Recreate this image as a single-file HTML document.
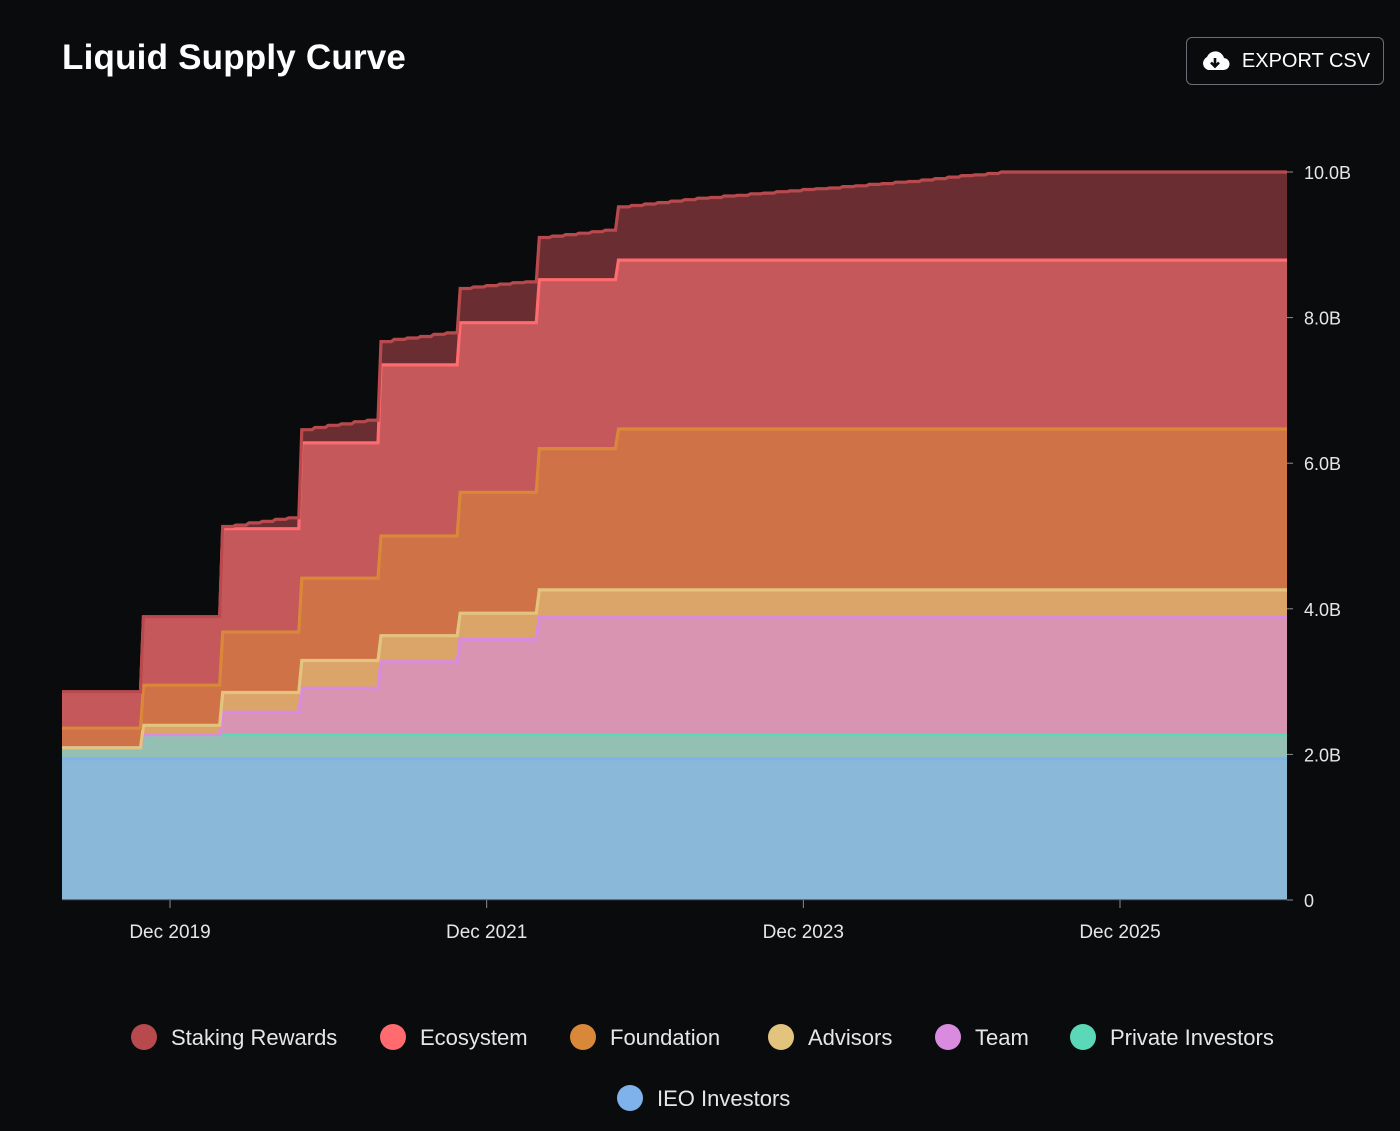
<!DOCTYPE html>
<html><head><meta charset="utf-8">
<style>
html,body{margin:0;padding:0;background:#0a0b0d;width:1400px;height:1131px;overflow:hidden;font-family:"Liberation Sans",sans-serif;color:#fff}
#title{position:absolute;left:62px;top:38px;font-size:35px;font-weight:bold;letter-spacing:0.2px}
#export{position:absolute;left:1186px;top:37px;width:198px;height:48px;border:1.5px solid #6b6e74;border-radius:6px;box-sizing:border-box;display:flex;align-items:center;justify-content:center;font-size:20px;gap:12px}
</style></head><body>
<div id="title">Liquid Supply Curve</div>
<div id="export">
<svg width="30" height="24" viewBox="0 0 30 24"><path d="M8 21 A7 7 0 0 1 7 8 A9 9 0 0 1 24 9 A6 6 0 0 1 23 21 Z" fill="#fff"/><path d="M15 9 V17 M11 13.5 L15 17.5 L19 13.5" stroke="#0a0b0d" stroke-width="2.6" fill="none"/></svg>
<span>EXPORT CSV</span></div>
<svg id="chart" width="1400" height="1131" style="position:absolute;left:0;top:0"></svg>
<script>
const seriesNames=["IEO Investors","Private Investors","Team","Advisors","Foundation","Ecosystem","Staking Rewards"];
const periodStarts=[0,6,12,18,24,30,36,42];
const ieo=[1.94,1.94,1.94,1.94,1.94,1.94,1.94,1.94];
const privateInv=[0.15,0.33,0.33,0.33,0.33,0.33,0.33,0.33];
const team=[0,0,0.31,0.64,1.00,1.31,1.62,1.62];
const advisors=[0,0.13,0.27,0.38,0.36,0.36,0.37,0.37];
const foundation=[0.27,0.55,0.83,1.13,1.37,1.66,1.94,2.21];
const ecosystem=[0.50,0.94,1.42,1.86,2.35,2.33,2.32,2.32];
const staking=[0,0,0,0,0,0,0,0,0,0,0,0,
0.03,0.05,0.08,0.10,0.13,0.15,
0.18,0.21,0.24,0.26,0.29,0.31,
0.32,0.35,0.37,0.39,0.42,0.44,
0.47,0.49,0.51,0.53,0.55,0.56,
0.58,0.60,0.62,0.64,0.66,0.68,
0.73,0.75,0.77,0.79,0.81,0.83,0.85,0.86,0.88,0.89,0.91,0.92,0.94,0.95,0.97,0.98,0.99,1.01,1.02,1.04,1.05,1.07,1.08,1.10,1.12,1.14,1.16,1.17,1.19,1.21,
1.21,1.21,1.21,1.21,1.21,1.21,1.21,1.21,1.21,1.21,1.21,1.21,1.21,1.21,1.21,1.21,1.21,1.21,1.21,1.21,1.21,1.21];
const yTicks=[0,2,4,6,8,10];
const yTickLabels=["0","2.0B","4.0B","6.0B","8.0B","10.0B"];
const xTickMonths=[8,32,56,80];
const xTickLabels=["Dec 2019","Dec 2021","Dec 2023","Dec 2025"];

const fills=["#8ab8d8","#93c0b3","#d894b0","#dba56a","#cf7247","#c4585b","#6a2e32"];
const lines=["#7fb2ea","#5ad8b8","#d98be0","#e3c47f","#d9883a","#ff6b6e","#b84a4d"];
const L=62,R=1287,B=900,T=172;
const x=m=>170+(m-8)*(950/72);
const y=v=>B-(v/10)*(B-T);
const svg=document.getElementById('chart');
const NS="http://www.w3.org/2000/svg";
function mk(tag,attrs){const e=document.createElementNS(NS,tag);for(const k in attrs)e.setAttribute(k,attrs[k]);svg.appendChild(e);return e;}
const N=staking.length;
function periodVal(arr,m){let p=0;for(let i=0;i<periodStarts.length;i++)if(m>=periodStarts[i])p=i;return arr[p];}
const perSeries=[ieo,privateInv,team,advisors,foundation,ecosystem];
const vals=[];
for(let s=0;s<7;s++){const a=[];for(let m=0;m<N;m++)a.push(s<6?periodVal(perSeries[s],m):staking[m]);vals.push(a);}
const cum=[];
for(let s=0;s<7;s++){const a=[];for(let m=0;m<N;m++)a.push((s?cum[s-1][m]:0)+vals[s][m]);cum.push(a);}
const defs=mk('defs',{});
const cp=document.createElementNS(NS,'clipPath');cp.setAttribute('id','clip');
const cr=document.createElementNS(NS,'rect');cr.setAttribute('x',L);cr.setAttribute('y',0);cr.setAttribute('width',R-L);cr.setAttribute('height',B+1);cp.appendChild(cr);defs.appendChild(cp);
const SH=5;
function stepPts(arr){const pts=[];for(let m=0;m<N;m++){const xs=x(m-0.5)+SH,xe=x(m+0.5)+SH;if(m===0)pts.push([x(-1),y(arr[0])]);pts.push([xs+1.5,y(arr[m])]);pts.push([xe-1.5,y(arr[m])]);}return pts;}
const g=mk('g',{'clip-path':'url(#clip)'});
for(let s=6;s>=0;s--){
  const top=stepPts(cum[s]);
  const d="M"+top.map(p=>p[0].toFixed(1)+","+p[1].toFixed(1)).join(" L")+" L"+x(N).toFixed(1)+","+B+" L"+x(-1).toFixed(1)+","+B+" Z";
  const a=document.createElementNS(NS,'path');a.setAttribute('d',d);a.setAttribute('fill',fills[s]);
  
  
  g.appendChild(a);
}
for(let s=0;s<7;s++){
  const top=stepPts(cum[s]);
  const ln=document.createElementNS(NS,'path');
  ln.setAttribute('d',"M"+top.map(p=>p[0].toFixed(1)+","+p[1].toFixed(1)).join(" L"));
  ln.setAttribute('fill','none');ln.setAttribute('stroke',lines[s]);ln.setAttribute('stroke-width','3.2');
  
  
  g.appendChild(ln);
}
svg.appendChild(g);
mk('line',{x1:L,x2:R,y1:B,y2:B,stroke:'#2a2d33','stroke-width':1});
yTicks.forEach((v,i)=>{
  mk('line',{x1:R,x2:R+6,y1:y(v),y2:y(v),stroke:'#8a8d93','stroke-width':1});
  const t=mk('text',{x:R+17,y:y(v)+7,fill:'#e6e6e6','font-size':18,'font-family':'Liberation Sans, sans-serif'});
  t.textContent=yTickLabels[i];
  
  
});
xTickMonths.forEach((m,i)=>{
  mk('line',{x1:x(m),x2:x(m),y1:B,y2:B+8,stroke:'#8a8d93','stroke-width':1});
  const t=mk('text',{x:x(m),y:B+38,fill:'#e6e6e6','font-size':19,'text-anchor':'middle','font-family':'Liberation Sans, sans-serif'});
  t.textContent=xTickLabels[i];
  
  
});
const legend=[["Staking Rewards",6,131,1037],["Ecosystem",5,380,1037],["Foundation",4,570,1037],["Advisors",3,768,1037],["Team",2,935,1037],["Private Investors",1,1070,1037],["IEO Investors",0,617,1098]];
legend.forEach(([n,s,lx,ly])=>{
  const c=mk('circle',{cx:lx+13,cy:ly,r:13,fill:lines[s]});
  
  
  const t=mk('text',{x:lx+40,y:ly+8,fill:'#e6e6e6','font-size':22,'font-family':'Liberation Sans, sans-serif'});
  t.textContent=n;
  
  
});
</script>
</body></html>
